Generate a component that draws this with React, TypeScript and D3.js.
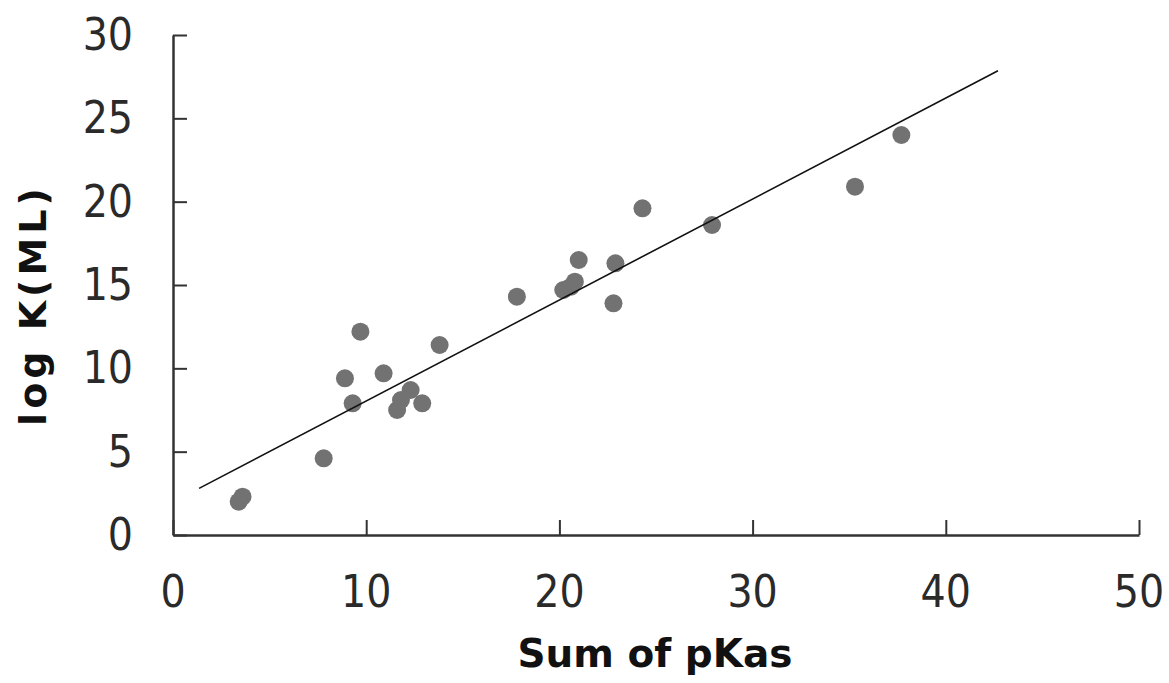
import React, { useEffect, useRef } from 'react';
import * as d3 from 'd3';

// sum of pKas vs log K(ML)
const sumPKas = [3.6, 3.4, 7.8, 8.9, 9.3, 9.7, 10.9, 11.6, 11.8, 12.3, 12.9, 13.8, 17.8, 20.2, 20.6, 20.8, 21.0, 22.8, 22.9, 24.3, 27.9, 35.3, 37.7];
const logKML = [2.3, 2.0, 4.6, 9.4, 7.9, 12.2, 9.7, 7.5, 8.1, 8.7, 7.9, 11.4, 14.3, 14.7, 14.9, 15.2, 16.5, 13.9, 16.3, 19.6, 18.6, 20.9, 24.0];

// linear trendline as drawn
const trendSlope = 0.606;
const trendIntercept = 1.98;
const trendRange = [1.35, 42.7];

const xTicks = [0, 10, 20, 30, 40, 50];
const yTicks = [0, 5, 10, 15, 20, 25, 30];

const width = 1169, height = 683;
const margin = { left: 173, right: 30, top: 35, bottom: 148 };
const tickFont = "'DejaVu Sans Condensed', 'DejaVu Sans', sans-serif";

export default function App() {
  const ref = useRef<SVGSVGElement>(null);

  useEffect(() => {
    const svg = d3.select(ref.current);
    svg.selectAll('*').remove();

    const x = d3.scaleLinear().domain([0, 50]).range([margin.left, width - margin.right]);
    const y = d3.scaleLinear().domain([0, 30]).range([height - margin.bottom, margin.top]);

    const axisColor = '#333';

    // x axis, ticks pointing inward
    const xAxis = svg.append('g')
      .attr('transform', `translate(0, ${y(0)})`)
      .call(d3.axisBottom(x).tickValues(xTicks).tickSizeInner(-15).tickSizeOuter(0).tickFormat(() => ''));
    xAxis.select('.domain').attr('stroke', axisColor).attr('stroke-width', 2.5);
    xAxis.selectAll('.tick line').attr('stroke', axisColor).attr('stroke-width', 2);

    const yAxis = svg.append('g')
      .attr('transform', `translate(${x(0)}, 0)`)
      .call(d3.axisLeft(y).tickValues(yTicks).tickSizeInner(-14).tickSizeOuter(0).tickFormat(() => ''));
    yAxis.select('.domain').attr('stroke', axisColor).attr('stroke-width', 2.5);
    yAxis.selectAll('.tick line').attr('stroke', axisColor).attr('stroke-width', 2);

    // tick labels
    svg.append('g').selectAll('text')
      .data(xTicks)
      .join('text')
      .attr('x', d => x(d))
      .attr('y', 607)
      .attr('text-anchor', 'middle')
      .attr('font-family', tickFont)
      .attr('font-size', 44)
      .attr('fill', '#2a2a2a')
      .text(d => d);

    svg.append('g').selectAll('text')
      .data(yTicks)
      .join('text')
      .attr('x', 133)
      .attr('y', d => y(d) + 15)
      .attr('text-anchor', 'end')
      .attr('font-family', tickFont)
      .attr('font-size', 44)
      .attr('fill', '#2a2a2a')
      .text(d => d);

    // points
    const pts = sumPKas.map((v, i) => [v, logKML[i]]);
    svg.append('g').selectAll('circle')
      .data(pts)
      .join('circle')
      .attr('cx', d => x(d[0]))
      .attr('cy', d => y(d[1]))
      .attr('r', 9)
      .attr('fill', '#727272');

    // trendline
    const line = d3.line<number>()
      .x(d => x(d))
      .y(d => y(trendSlope * d + trendIntercept));
    svg.append('path')
      .datum(trendRange)
      .attr('d', line)
      .attr('fill', 'none')
      .attr('stroke', '#111')
      .attr('stroke-width', 1.6);

    // titles
    svg.append('text')
      .attr('x', 655)
      .attr('y', 667)
      .attr('text-anchor', 'middle')
      .attr('font-family', 'DejaVu Sans')
      .attr('font-weight', 'bold')
      .attr('font-size', 39)
      .attr('fill', '#111')
      .text('Sum of pKas');

    svg.append('text')
      .attr('transform', 'translate(46, 305) rotate(-90)')
      .attr('text-anchor', 'middle')
      .attr('font-family', 'DejaVu Sans')
      .attr('font-weight', 'bold')
      .attr('font-size', 38)
      .attr('letter-spacing', 4)
      .attr('fill', '#111')
      .text('log K(ML)');
  }, []);

  return (
    <svg ref={ref} width={width} height={height}
      style={{ position: 'absolute', left: 0, top: 0, background: '#fff' }} />
  );
}
